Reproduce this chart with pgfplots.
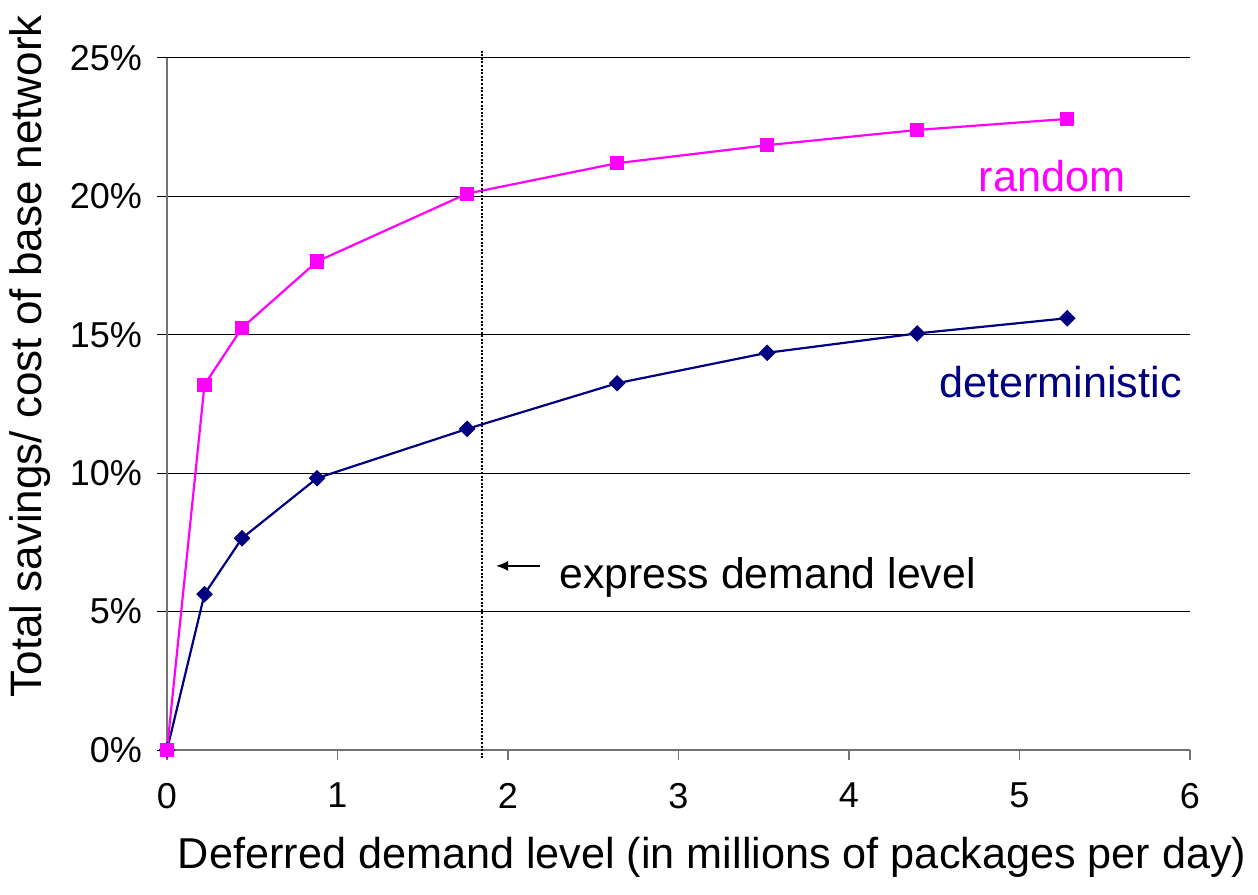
\documentclass[border=0pt]{standalone}
\usepackage{pgfplots}
\pgfplotsset{compat=1.18}
\usetikzlibrary{arrows.meta}
\usepackage{fontspec}
\setmainfont{Liberation Sans}
\definecolor{rnd}{RGB}{255,0,255}
\definecolor{det}{RGB}{0,0,128}
\begin{document}
\begin{tikzpicture}
\begin{axis}[
  at={(0,0)}, anchor=south west,
  scale only axis, width=511.5pt, height=346pt,
  xmin=0, xmax=6, ymin=0, ymax=25,
  axis x line*=bottom, axis y line*=left,
  axis line style={-, draw=gray!90!black, line width=0.6pt},
  xtick={0,1,2,3,4,5,6}, xticklabels={0,1,2,3,4,5,6},
  ytick={0,5,10,15,20,25}, yticklabels={0\%,5\%,10\%,15\%,20\%,25\%},
  tick align=outside, major tick length=5pt,
  xtick style={draw=gray!90!black, line width=0.6pt},
  ytick style={draw=black, line width=0.5pt},
  ymajorgrids, grid style={black, line width=0.5pt},
  tick label style={font=\fontsize{18}{21}\selectfont},
  xticklabel style={yshift=-8pt},
  yticklabel style={xshift=-4pt},
  clip=false,
]
\addplot[det, line width=1.1pt, mark=square*, mark size=2.4pt, mark options={solid, rotate=45}] coordinates {
(0,0) (0.22,5.63) (0.44,7.65) (0.88,9.82) (1.76,11.6) (2.64,13.25) (3.52,14.35) (4.40,15.05) (5.28,15.6)};
\addplot[rnd, line width=1.1pt, mark=square*, mark size=3pt, mark options={solid}] coordinates {
(0,0) (0.22,13.2) (0.44,15.25) (0.88,17.65) (1.76,20.1) (2.64,21.2) (3.52,21.85) (4.40,22.4) (5.28,22.8)};
\addplot[black, line width=1pt, dash pattern=on 1pt off 0.8pt] coordinates {(1.85,-0.3) (1.85,25.3)};
\draw[-{Latex[length=6pt,width=5pt]}, line width=0.8pt] (axis cs:2.19,6.65) -- (axis cs:1.93,6.65);
\node[font=\fontsize{21.4}{24}\selectfont, anchor=west] at (axis cs:2.26,6.25) {express demand level};
\node[font=\fontsize{21.6}{24}\selectfont, text=rnd] at (axis cs:5.19,20.75) {random};
\node[font=\fontsize{21.6}{24}\selectfont, text=det] at (axis cs:5.24,13.3) {deterministic};
\node[rotate=90, font=\fontsize{22}{24}\selectfont] at (axis description cs:-0.134,0.569) {Total savings/ cost of base network};
\node[font=\fontsize{21.6}{24}\selectfont] at (axis description cs:0.533,-0.155) {Deferred demand level (in millions of packages per day)};
\end{axis}
\pgfresetboundingbox
\path[use as bounding box] (-83.5pt,-72pt) rectangle (545.5pt,375pt);
\end{tikzpicture}
\end{document}
